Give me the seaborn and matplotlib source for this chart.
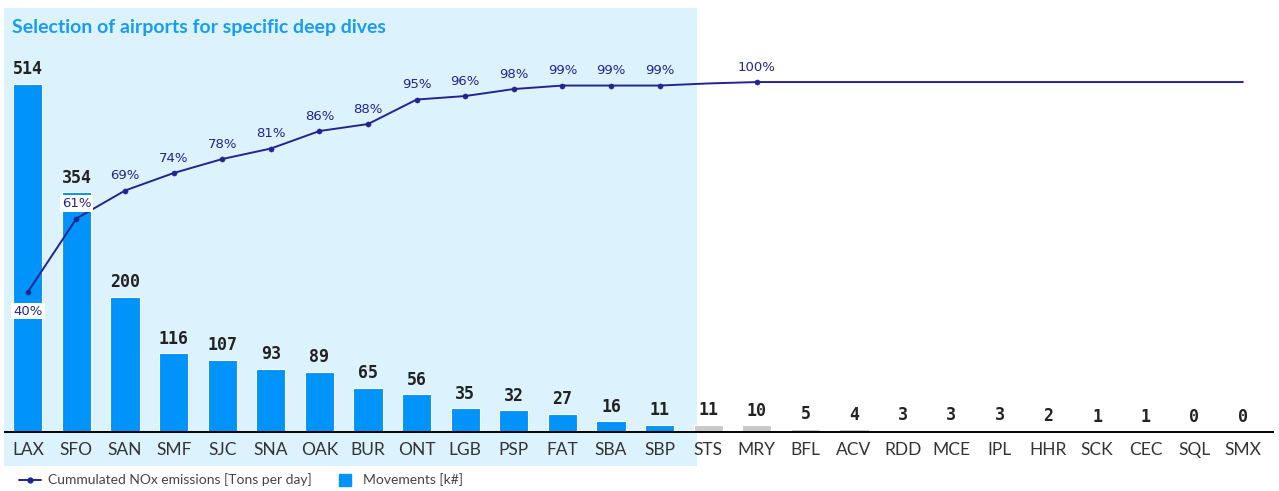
import matplotlib
matplotlib.use("Agg")
import matplotlib.pyplot as plt
import numpy as np
import pandas as pd
import seaborn as sns
from matplotlib.patches import Rectangle
from matplotlib.lines import Line2D

# ---- data -------------------------------------------------------------
airports = ["LAX", "SFO", "SAN", "SMF", "SJC", "SNA", "OAK", "BUR", "ONT",
            "LGB", "PSP", "FAT", "SBA", "SBP", "STS", "MRY", "BFL", "ACV",
            "RDD", "MCE", "IPL", "HHR", "SCK", "CEC", "SQL", "SMX"]
movements = [514, 354, 200, 116, 107, 93, 89, 65, 56, 35, 32, 27, 16, 11,
             11, 10, 5, 4, 3, 3, 3, 2, 1, 1, 0, 0]
cum_nox = [40, 61, 69, 74, 78, 81, 86, 88, 95, 96, 98, 99, 99, 99,
           99.6, 100, 100, 100, 100, 100, 100, 100, 100, 100, 100, 100]
labelled_points = [0, 1, 2, 3, 4, 5, 6, 7, 8, 9, 10, 11, 12, 13, 15]
n_selected = 14

# ---- style --------------------------------------------------------------
BLUE = "#0094FB"
GREY = "#C9C9C9"
NAVY = "#24248F"
SHADE = "#DCF2FD"
TITLE_BLUE = "#1A9CF0"

sns.set_theme(style="white")
plt.rcParams["font.family"] = ["Lato", "DejaVu Sans"]

W, H = 1279, 491
fig = plt.figure(figsize=(W / 100, H / 100), dpi=100)

# highlighted block for the selected airports
fig.patches.append(Rectangle((4 / W, 1 - 466 / H), (697 - 4) / W, (466 - 8) / H,
                             transform=fig.transFigure, facecolor=SHADE,
                             edgecolor="none", zorder=-5))

fig.text(12 / W, 1 - 27 / H, "Selection of airports for specific deep dives",
         fontsize=14, fontweight="bold", color=TITLE_BLUE, va="center")

ax = fig.add_axes([5 / W, 59 / H, 1268 / W, 372 / H])
ax.patch.set_alpha(0)

df = pd.DataFrame({"airport": airports, "movements": movements, "cum": cum_nox})
palette = [BLUE if i < n_selected else GREY for i in range(len(airports))]
sns.barplot(data=df, x="airport", y="movements", hue="airport", palette=palette,
            legend=False, width=0.6, saturation=1, ax=ax, zorder=2,
            edgecolor="white", linewidth=0.8)

ax.set_xlim(-0.47, 25.62)
ax.set_ylim(0, 514 * 372 / 348)
for i, v in enumerate(movements):
    ax.annotate(f"{v}", (i, v), xytext=(0, 4), textcoords="offset points",
                ha="center", va="bottom", fontsize=12, fontweight="bold",
                color="#222222", family="DejaVu Sans Mono")

ax.set_xlabel("")
ax.set_ylabel("")
ax.set_yticks([])
ax.tick_params(axis="x", length=0, pad=7, labelsize=12.5, labelcolor="#333333")
for s in ["top", "left", "right"]:
    ax.spines[s].set_visible(False)
ax.spines["bottom"].set_color("black")
ax.spines["bottom"].set_linewidth(1.4)

# cumulative emissions on a secondary scale
ax2 = ax.twinx()
ax2.set_ylim(0, 106.3)
x_pos = np.arange(len(airports))
sns.lineplot(x=x_pos, y=cum_nox, ax=ax2, color=NAVY, linewidth=1.4, zorder=3)
sns.scatterplot(x=x_pos[labelled_points], y=np.array(cum_nox)[labelled_points],
                ax=ax2, color=NAVY, s=14, edgecolor=NAVY, zorder=4)
for i in labelled_points:
    v = cum_nox[i]
    if i == 0:
        off, va = (0, -9), "top"
    else:
        off, va = (0, 6), "bottom"
    bbox = dict(boxstyle="square,pad=0.15", fc="white", ec="none") if i in (0, 1) else None
    ax2.annotate(f"{v:.0f}%", (i, v), xytext=off, textcoords="offset points",
                 ha="center", va=va, fontsize=9.5, color=NAVY,
                 family="DejaVu Sans", bbox=bbox, zorder=5)
ax2.set_yticks([])
ax2.set_ylabel("")
for s in ["top", "left", "right", "bottom"]:
    ax2.spines[s].set_visible(False)

handles = [
    Line2D([0], [0], color=NAVY, lw=1.4, marker="o", markersize=3.5),
    Line2D([0], [0], color=BLUE, lw=0, marker="s", markersize=8),
]
fig.legend(handles, ["Cummulated NOx emissions [Tons per day]", "Movements [k#]"],
           loc="center left", bbox_to_anchor=(6 / W, 1 - 480 / H), ncol=2,
           frameon=False, fontsize=10, handlelength=1.6, handletextpad=0.5,
           columnspacing=1.6, labelcolor="#444444")

fig.savefig("out.png", dpi=100)
